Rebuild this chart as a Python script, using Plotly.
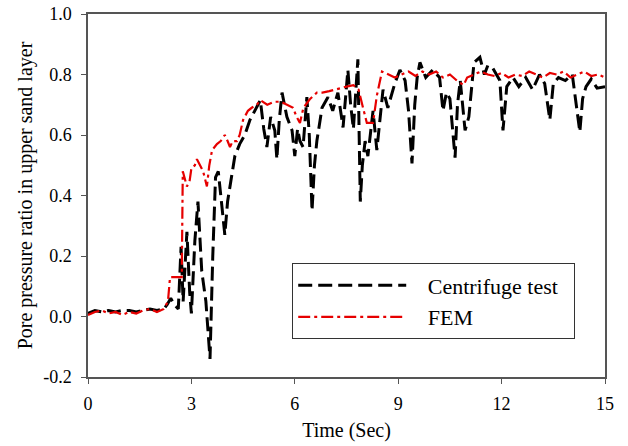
import plotly.graph_objects as go

# Centrifuge test (black dashed)
cent_t = [0.0, 0.2, 0.4, 0.6, 0.8, 1.0, 1.2, 1.4, 1.6, 1.8, 2.0, 2.2, 2.3, 2.4, 2.5, 2.62,
          2.7, 2.76, 2.87, 2.95, 3.0, 3.1, 3.19, 3.3, 3.42, 3.54, 3.62, 3.7, 3.78, 3.85,
          3.97, 4.05, 4.15, 4.26, 4.4, 4.55, 4.7, 4.85, 5.0, 5.1, 5.19, 5.3, 5.42, 5.48,
          5.55, 5.63, 5.77, 5.92, 6.0, 6.08, 6.15, 6.24, 6.35, 6.42, 6.5, 6.57, 6.64, 6.79,
          6.96, 7.1, 7.25, 7.4, 7.54, 7.62, 7.7, 7.83, 7.9, 7.96, 8.04, 8.12, 8.27, 8.38,
          8.56, 8.7, 8.9, 9.05, 9.2, 9.3, 9.4, 9.48, 9.55, 9.63, 9.8, 10.0, 10.2, 10.3,
          10.4, 10.5, 10.65, 10.72, 10.8, 10.94, 11.05, 11.2, 11.37, 11.5, 11.6, 11.75,
          11.95, 12.04, 12.15, 12.33, 12.5, 12.7, 12.9, 13.1, 13.25, 13.4, 13.5, 13.65,
          13.85, 14.05, 14.27, 14.35, 14.45, 14.6, 14.77, 15.0]
cent_y = [0.01, 0.02, 0.015, 0.02, 0.015, 0.02, 0.02, 0.015, 0.02, 0.025, 0.02, 0.025, 0.04, 0.06, 0.04, 0.025,
          0.23, 0.05, 0.28, 0.08, 0.01, 0.25, 0.38, 0.15, 0.05, -0.14, 0.2, 0.46, 0.48, 0.4,
          0.27, 0.38, 0.45, 0.53, 0.57, 0.6, 0.65, 0.68, 0.715, 0.62, 0.56, 0.66, 0.615, 0.52,
          0.65, 0.74, 0.66, 0.615, 0.53, 0.62, 0.58, 0.56, 0.725, 0.6, 0.35, 0.5, 0.58, 0.69,
          0.725, 0.68, 0.74, 0.625, 0.815, 0.7, 0.62, 0.85, 0.38, 0.5, 0.58, 0.53, 0.68, 0.55,
          0.75, 0.69, 0.77, 0.815, 0.78, 0.68, 0.506, 0.7, 0.79, 0.84, 0.79, 0.815, 0.79, 0.68,
          0.74, 0.72, 0.525, 0.7, 0.78, 0.615, 0.66, 0.84, 0.857, 0.8, 0.83, 0.82,
          0.78, 0.615, 0.76, 0.79, 0.76, 0.79, 0.75, 0.8, 0.77, 0.65, 0.77, 0.79,
          0.78, 0.8, 0.61, 0.72, 0.76, 0.785, 0.755, 0.76]

# FEM (red dash-dot)
fem_t = [0.0, 0.2, 0.4, 0.6, 0.8, 1.0, 1.2, 1.4, 1.6, 1.8, 2.0, 2.2, 2.32, 2.38, 2.55, 2.72,
         2.75, 2.8, 2.87, 2.95, 3.0, 3.1, 3.16, 3.25, 3.34, 3.45, 3.52, 3.6, 3.74, 3.85,
         3.97, 4.05, 4.12, 4.2, 4.32, 4.4, 4.5, 4.64, 4.75, 4.9, 5.0, 5.2, 5.4, 5.6, 5.8,
         5.95, 6.05, 6.15, 6.25, 6.45, 6.64, 6.8, 7.0, 7.15, 7.3, 7.5, 7.7, 7.85, 7.98,
         8.09, 8.27, 8.38, 8.53, 8.7, 8.9, 9.1, 9.3, 9.5, 9.7, 9.9, 10.1, 10.3, 10.5, 10.7,
         10.9, 11.0, 11.2, 11.4, 11.6, 11.8, 12.0, 12.2, 12.4, 12.6, 12.8, 13.0, 13.2, 13.4,
         13.6, 13.8, 14.0, 14.2, 14.4, 14.6, 14.8, 15.0]
fem_y = [0.005, 0.015, 0.02, 0.01, 0.015, 0.005, 0.015, 0.01, 0.02, 0.025, 0.015, 0.025, 0.05, 0.13, 0.13, 0.13,
         0.48, 0.46, 0.43, 0.45, 0.49, 0.5, 0.52, 0.5, 0.48, 0.43, 0.5, 0.55, 0.57, 0.58,
         0.6, 0.58, 0.56, 0.58, 0.58, 0.6, 0.65, 0.68, 0.69, 0.7, 0.715, 0.7, 0.71, 0.71, 0.7,
         0.69, 0.66, 0.64, 0.69, 0.72, 0.74, 0.74, 0.745, 0.75, 0.755, 0.76, 0.765, 0.75, 0.69,
         0.64, 0.64, 0.73, 0.81, 0.8, 0.79, 0.8, 0.81, 0.795, 0.81, 0.8, 0.81, 0.79, 0.8, 0.78,
         0.765, 0.79, 0.8, 0.81, 0.8, 0.795, 0.805, 0.79, 0.8, 0.795, 0.81, 0.8, 0.79, 0.805,
         0.8, 0.81, 0.79, 0.8, 0.81, 0.795, 0.8, 0.79]

x_ticks = [0, 3, 6, 9, 12, 15]
y_ticks = [-0.2, 0.0, 0.2, 0.4, 0.6, 0.8, 1.0]
y_tick_labels = ["-0.2", "0.0", "0.2", "0.4", "0.6", "0.8", "1.0"]

FONT = "Liberation Serif, Times New Roman, serif"
NB = "\u00a0"

fig = go.Figure()
fig.add_trace(go.Scatter(x=cent_t, y=cent_y, mode="lines", name=NB * 3 + "Centrifuge test" + NB * 2,
                         line=dict(color="black", width=3, dash="14px,6px")))
fig.add_trace(go.Scatter(x=fem_t, y=fem_y, mode="lines", name=NB * 3 + "FEM",
                         line=dict(color="#e60000", width=2.2, dash="12px,4px,3px,4px")))

fig.update_layout(
    width=628, height=446,
    margin=dict(l=88, r=23, t=14, b=69),
    paper_bgcolor="white", plot_bgcolor="white",
    font=dict(family=FONT, color="black", size=18),
    showlegend=True,
    legend=dict(x=0.395, y=0.313, xanchor="left", yanchor="top",
                bordercolor="#333", borderwidth=1, bgcolor="white",
                font=dict(family=FONT, size=22), itemwidth=108,
                tracegroupgap=0),
    xaxis=dict(range=[0, 15], tickvals=x_ticks, ticks="outside", ticklen=5,
               tickfont=dict(family=FONT, size=18, color="black"), ticklabelstandoff=5,
               showline=True, linecolor="#555", linewidth=1.5, mirror=True,
               showgrid=False, zeroline=False, tickcolor="#555", automargin=False,
               title=dict(text="Time (Sec)", font=dict(family=FONT, size=20), standoff=10)),
    yaxis=dict(range=[-0.2, 1.0], tickvals=y_ticks, ticktext=y_tick_labels, ticks="outside", ticklen=5,
               tickfont=dict(family=FONT, size=18, color="black"), ticklabelstandoff=6,
               showline=True, linecolor="#555", linewidth=1.5, mirror=True,
               showgrid=False, zeroline=False, tickcolor="#555", automargin=False,
               title=dict(text="Pore pressure ratio in upper sand layer",
                          font=dict(family=FONT, size=20), standoff=5)),
)

fig.write_html("out.html")
